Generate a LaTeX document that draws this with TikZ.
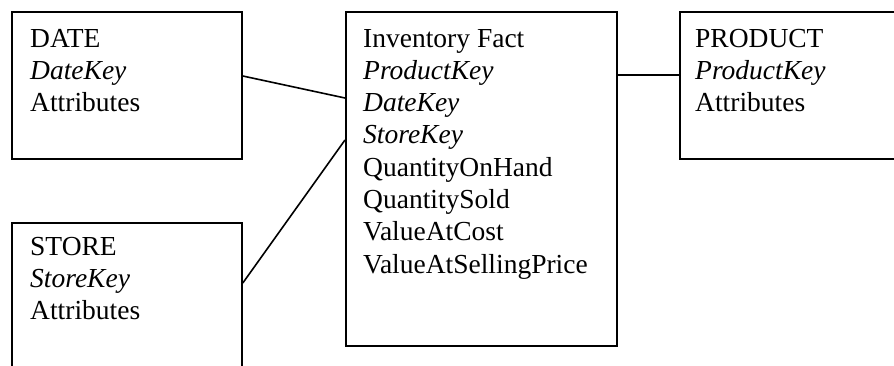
\documentclass[tikz,border=0pt]{standalone}
\usepackage{fontspec}
\setmainfont{Liberation Serif}
\begin{document}
\begin{tikzpicture}[x=1pt,y=-1pt,
  entity/.style={draw, line width=1.8pt, rectangle, inner sep=0pt, anchor=north west},
  % the base anchor of a multi-line node sits on its last baseline
  fields/.style={anchor=base west, align=left, inner sep=0pt,
    font=\fontsize{27.5}{32.3}\selectfont},
  link/.style={line width=1.6pt}]
\useasboundingbox (0,0) rectangle (894,365);
\clip (0,0) rectangle (894,365);

% dimension tables and the fact table
\node[entity, minimum width=230pt, minimum height=147pt] (date) at (11,11) {};
\node[entity, minimum width=230pt, minimum height=180pt] (store) at (11,222) {};
\node[entity, minimum width=271pt, minimum height=334pt] (fact) at (345,11) {};
\node[entity, minimum width=240pt, minimum height=147pt] (product) at (679,11) {};

% table contents
\node[fields] (datetxt) at (30,111.6) {DATE\\\textit{DateKey}\\Attributes};
\node[fields] (storetxt) at (30,319.6) {STORE\\\textit{StoreKey}\\Attributes};
\node[fields] (facttxt) at (363,273.1) {Inventory Fact\\\textit{ProductKey}\\\textit{DateKey}\\\textit{StoreKey}\\QuantityOnHand\\QuantitySold\\ValueAtCost\\ValueAtSellingPrice};
\node[fields] (producttxt) at (695,111.6) {PRODUCT\\\textit{ProductKey}\\Attributes};

% relationships
\draw[link] ([yshift=-65pt]date.north east) -- ([yshift=-87pt]fact.north west);
\draw[link] ([yshift=-61pt]store.north east) -- ([yshift=-129pt]fact.north west);
\draw[link] ([yshift=-64pt]fact.north east) -- ([yshift=-64pt]product.north west);
\end{tikzpicture}
\end{document}
